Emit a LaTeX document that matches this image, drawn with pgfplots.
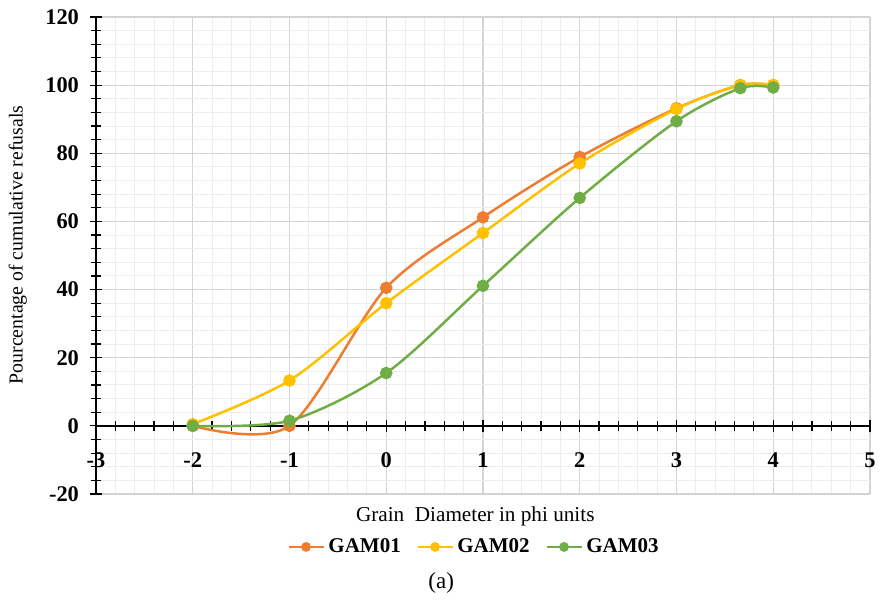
\documentclass[border=0pt]{standalone}
\usepackage{pgfplots}
\pgfplotsset{compat=1.18}
\usepackage{fontspec}
\setmainfont{Liberation Serif}
\definecolor{cOr}{HTML}{ED7D31}
\definecolor{cYe}{HTML}{FFC000}
\definecolor{cGr}{HTML}{70AD47}
\begin{document}
\begin{tikzpicture}
\begin{axis}[
  scale only axis, width=387pt, height=238.5pt,
  xmin=-3, xmax=5, ymin=-20, ymax=120,
  axis x line=middle, axis y line=left,
  axis line style={-, black, line width=0.8pt},
  xtick={-3,-2,...,5}, ytick={-20,0,...,120},
  minor x tick num=4, minor y tick num=4,
  grid=both,
  major grid style={draw=black!17, line width=0.6pt},
  minor grid style={draw=black!7, line width=0.5pt},
  tick align=center, major tick length=6pt, minor tick length=5pt,
  every tick/.style={black, line width=0.6pt},
  hide obscured x ticks=false, hide obscured y ticks=false,
  /pgf/number format/assume math mode=true,
  ticklabel style={font=\fontsize{11.2}{13}\selectfont\bfseries},
  yticklabel style={xshift=-2pt},
  xticklabel style={yshift=-7pt},
  xlabel={Grain\ \ Diameter in phi units},
  ylabel={Pourcentage of cumulative refusals},
  every axis x label/.style={at={(rel axis cs:0.49,-0.046)}, anchor=center, font=\fontsize{10.6}{12}\selectfont},
  every axis y label/.style={at={(rel axis cs:-0.101,0.522)}, anchor=center, rotate=90, font=\fontsize{9.9}{12}\selectfont},
  legend style={at={(rel axis cs:0.49,-0.111)}, anchor=center, draw=none, fill=none,
    legend columns=3, font=\fontsize{10.5}{12}\selectfont\bfseries,
    /tikz/every even column/.append style={column sep=6pt}},
  legend image code/.code={%
    \draw[mark repeat=2,mark phase=2,#1, mark size=1.8pt]
      plot coordinates {(0cm,0cm) (0.3cm,0cm) (0.6cm,0cm)};},
  clip=false,
]
\addplot[cOr, line width=1.25pt, smooth, tension=0.5, mark=*, mark size=2.5pt, mark options={solid, fill=cOr}]
  coordinates {(-2,0) (-1,0) (0,40.5) (1,61.2) (2,78.9) (3,93.2) (3.66,100) (4,100)};
\addlegendentry{GAM01}
\addplot[cYe, line width=1.25pt, smooth, tension=0.5, mark=*, mark size=2.5pt, mark options={solid, fill=cYe}]
  coordinates {(-2,0.5) (-1,13.3) (0,36) (1,56.6) (2,77) (3,93) (3.66,100) (4,100)};
\addlegendentry{GAM02}
\addplot[cGr, line width=1.25pt, smooth, tension=0.5, mark=*, mark size=2.5pt, mark options={solid, fill=cGr}]
  coordinates {(-2,0) (-1,1.5) (0,15.5) (1,41.1) (2,66.9) (3,89.4) (3.66,99.1) (4,99.3)};
\addlegendentry{GAM03}
\coordinate (bl) at (rel axis cs:-0.124,-0.2285);
\coordinate (tr) at (rel axis cs:1.0194,1.0356);
\coordinate (lab) at (rel axis cs:0.446,-0.187);
\end{axis}
\node[font=\fontsize{11.5}{13}\selectfont] at (lab) {(a)};
\path (bl) rectangle (tr);
\end{tikzpicture}
\end{document}
